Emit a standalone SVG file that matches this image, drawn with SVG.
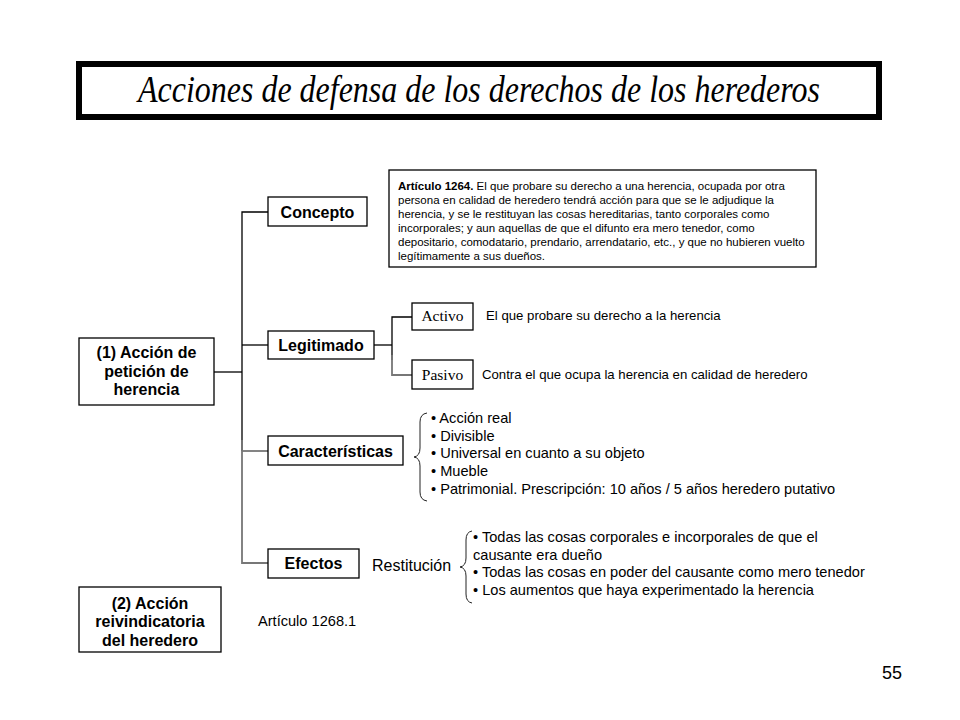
<svg xmlns="http://www.w3.org/2000/svg" width="960" height="720" viewBox="0 0 960 720">
<style>
.box{fill:#fff;stroke:#000;stroke-width:1.3}
.nb{font-family:"Liberation Sans",Arial,sans-serif;font-weight:bold;font-size:16px;text-anchor:middle;fill:#000}
.ns{font-family:"Liberation Serif","Times New Roman",serif;font-size:15.5px;text-anchor:middle;fill:#000}
.t{font-family:"Liberation Sans",Arial,sans-serif;font-size:14.6px;fill:#000}
.rs{font-family:"Liberation Sans",Arial,sans-serif;font-size:16px;fill:#000}
.r{font-family:"Liberation Sans",Arial,sans-serif;font-size:13.2px;fill:#000}
.s{font-family:"Liberation Sans",Arial,sans-serif;font-size:11.5px;fill:#000}
.ln{fill:none;stroke:#000;stroke-width:1.3}
.lg{fill:none;stroke:#777;stroke-width:1.8}
.br{fill:none;stroke:#222;stroke-width:1}
</style>
<rect width="960" height="720" fill="#fff"/>
<g id="title">
<rect x="79" y="64" width="800" height="53" fill="#fff" stroke="#000" stroke-width="6"/>
<text x="479" y="102" font-family="'Liberation Serif','Times New Roman',serif" font-style="italic" font-size="37" text-anchor="middle" textLength="682" lengthAdjust="spacingAndGlyphs">Acciones de defensa de los derechos de los herederos</text>
</g>
<g id="connectors">
<line class="ln" x1="214" y1="372" x2="242" y2="372" stroke-width="2.5"/>
<path class="ln" d="M268 212 H242 V451"/>
<line class="ln" x1="242" y1="345" x2="268" y2="345"/>
<path class="lg" d="M242 440 V563 H268"/>
<line class="lg" x1="242" y1="451" x2="268" y2="451"/>
<line class="ln" x1="374" y1="345" x2="392" y2="345"/>
<path class="ln" d="M412 317 H392 V360"/>
<path class="lg" d="M392 355 V375 H412"/>
</g>
<g id="n1">
<rect class="box" x="79" y="338" width="135" height="67"/>
<text class="nb" x="146.5" y="358">(1) Acción de</text>
<text class="nb" x="146.5" y="377">petición de</text>
<text class="nb" x="146.5" y="395">herencia</text>
</g>
<g id="concepto">
<rect class="box" x="268" y="197" width="99" height="29"/>
<text class="nb" x="317.5" y="218">Concepto</text>
</g>
<g id="articulo">
<rect class="box" x="389" y="170" width="427" height="97"/>
<text class="s" x="398" y="190"><tspan font-weight="bold">Artículo 1264.</tspan> El que probare su derecho a una herencia, ocupada por otra</text>
<text class="s" x="398" y="204">persona en calidad de heredero tendrá acción para que se le adjudique la</text>
<text class="s" x="398" y="218">herencia, y se le restituyan las cosas hereditarias, tanto corporales como</text>
<text class="s" x="398" y="232">incorporales; y aun aquellas de que el difunto era mero tenedor, como</text>
<text class="s" x="398" y="246">depositario, comodatario, prendario, arrendatario, etc., y que no hubieren vuelto</text>
<text class="s" x="398" y="260">legítimamente a sus dueños.</text>
</g>
<g id="legitimado">
<rect class="box" x="268" y="331" width="106" height="28"/>
<text class="nb" x="321" y="351">Legitimado</text>
</g>
<g id="activo">
<rect class="box" x="412" y="303" width="61" height="27"/>
<text class="ns" x="442.5" y="321">Activo</text>
<text class="r" x="486" y="320">El que probare su derecho a la herencia</text>
</g>
<g id="pasivo">
<rect class="box" x="412" y="360" width="61" height="29"/>
<text class="ns" x="442.5" y="380">Pasivo</text>
<text class="r" x="482" y="379">Contra el que ocupa la herencia en calidad de heredero</text>
</g>
<g id="caracteristicas">
<rect class="box" x="268" y="436" width="135" height="29"/>
<text class="nb" x="335.5" y="457">Características</text>
<path class="br" d="M427 413 Q420 414 420 422 V448 Q420 456 414 457 Q420 458 420 466 V492 Q420 500 427 501"/>
<text class="t" x="431" y="423">• Acción real</text>
<text class="t" x="431" y="441">• Divisible</text>
<text class="t" x="431" y="458">• Universal en cuanto a su objeto</text>
<text class="t" x="431" y="476">• Mueble</text>
<text class="t" x="431" y="494">• Patrimonial. Prescripción: 10 años / 5 años heredero putativo</text>
</g>
<g id="efectos">
<rect class="box" x="268" y="549" width="91" height="29"/>
<text class="nb" x="313.5" y="569">Efectos</text>
<text class="rs" x="372" y="571">Restitución</text>
<path class="br" d="M472 531 Q466 532 466 540 V558 Q466 566 460 567 Q466 568 466 576 V594 Q466 602 472 603"/>
<text class="t" x="473" y="542">• Todas las cosas corporales e incorporales de que el</text>
<text class="t" x="473" y="560">causante era dueño</text>
<text class="t" x="473" y="577">• Todas las cosas en poder del causante como mero tenedor</text>
<text class="t" x="473" y="595">• Los aumentos que haya experimentado la herencia</text>
</g>
<g id="n2">
<rect class="box" x="79" y="587" width="142" height="65"/>
<text class="nb" x="150" y="609">(2) Acción</text>
<text class="nb" x="150" y="627">reivindicatoria</text>
<text class="nb" x="150" y="646">del heredero</text>
<text class="t" x="258" y="626">Artículo 1268.1</text>
</g>
<text x="902" y="679" font-family="'Liberation Sans',Arial,sans-serif" font-size="18" text-anchor="end">55</text>
</svg>
